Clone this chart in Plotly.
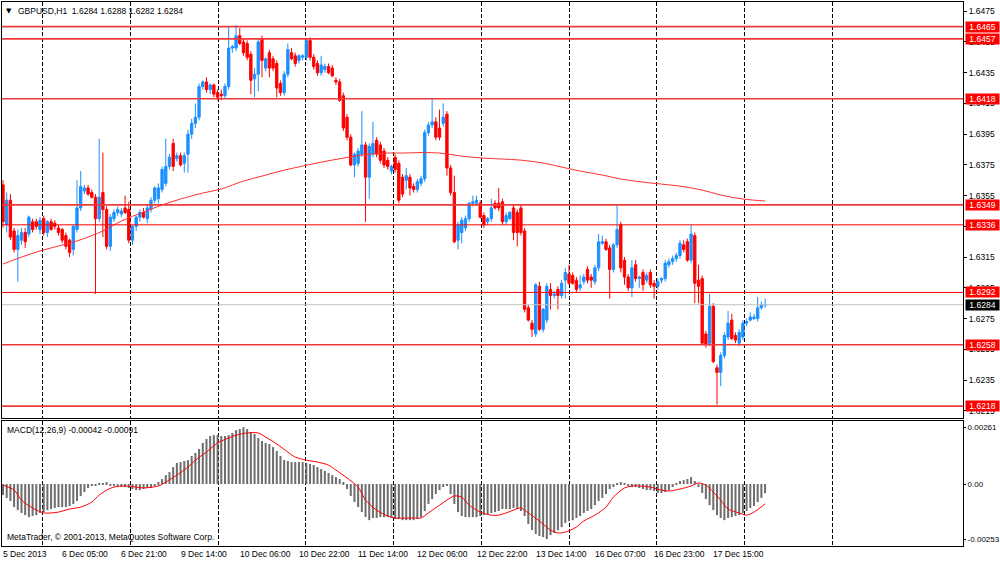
import plotly.graph_objects as go

# GBPUSD H1 candles (bar index = position on the chart)
opens = [1.6362, 1.6336, 1.6352, 1.6332, 1.6320, 1.6326, 1.6331, 1.6330, 1.6338, 1.6338,
         1.6333, 1.6340, 1.6331, 1.6338, 1.6337, 1.6334, 1.6333, 1.6329, 1.6326, 1.6320,
         1.6333, 1.6347, 1.6358, 1.6360, 1.6357, 1.6354, 1.6340, 1.6357, 1.6346, 1.6322,
         1.6340, 1.6344, 1.6343, 1.6347, 1.6346, 1.6326, 1.6335, 1.6341, 1.6344, 1.6340,
         1.6346, 1.6352, 1.6353, 1.6359, 1.6363, 1.6374, 1.6389, 1.6379, 1.6381, 1.6376,
         1.6382, 1.6395, 1.6402, 1.6406, 1.6426, 1.6429, 1.6424, 1.6427, 1.6422, 1.6421,
         1.6420, 1.6426, 1.6451, 1.6451, 1.6459, 1.6455, 1.6454, 1.6447, 1.6431, 1.6434,
         1.6457, 1.6438, 1.6448, 1.6444, 1.6441, 1.6428, 1.6422, 1.6434, 1.6448, 1.6446,
         1.6443, 1.6445, 1.6445, 1.6456, 1.6445, 1.6441, 1.6435, 1.6437, 1.6439, 1.6438,
         1.6430, 1.6429, 1.6420, 1.6406, 1.6393, 1.6375, 1.6376, 1.6382, 1.6388, 1.6367,
         1.6382, 1.6391, 1.6388, 1.6384, 1.6378, 1.6371, 1.6380, 1.6376, 1.6367, 1.6365,
         1.6367, 1.6361, 1.6359, 1.6363, 1.6366, 1.6396, 1.6401, 1.6403, 1.6399, 1.6402,
         1.6408, 1.6373, 1.6357, 1.6326, 1.6331, 1.6334, 1.6340, 1.6350, 1.6350, 1.6350,
         1.6342, 1.6338, 1.6340, 1.6350, 1.6350, 1.6351, 1.6338, 1.6340, 1.6347, 1.6344,
         1.6347, 1.6332, 1.6282, 1.6272, 1.6265, 1.6296, 1.6268, 1.6274, 1.6294, 1.6290,
         1.6294, 1.6290, 1.6300, 1.6304, 1.6303, 1.6300, 1.6295, 1.6299, 1.6307, 1.6302,
         1.6299, 1.6308, 1.6324, 1.6325, 1.6321, 1.6307, 1.6323, 1.6336, 1.6313, 1.6302,
         1.6295, 1.6310, 1.6301, 1.6305, 1.6300, 1.6305, 1.6298, 1.6296, 1.6300, 1.6301,
         1.6310, 1.6312, 1.6314, 1.6316, 1.6323, 1.6325, 1.6313, 1.6329, 1.6300, 1.6301,
         1.6265, 1.6259, 1.6283, 1.6243, 1.6240, 1.6251, 1.6263, 1.6274, 1.6264, 1.6259,
         1.6263, 1.6272, 1.6274, 1.6275, 1.6275, 1.6282, 1.6284]
highs = [1.6365, 1.6357, 1.6356, 1.6334, 1.6333, 1.6334, 1.6334, 1.6342, 1.6340, 1.6340,
         1.6341, 1.6342, 1.6339, 1.6340, 1.6339, 1.6336, 1.6334, 1.6331, 1.6327, 1.6336,
         1.6365, 1.6371, 1.6362, 1.6362, 1.6359, 1.6356, 1.6392, 1.6383, 1.6348, 1.6343,
         1.6346, 1.6348, 1.6347, 1.6355, 1.6351, 1.6336, 1.6342, 1.6346, 1.6347, 1.6349,
         1.6354, 1.6361, 1.6363, 1.6374, 1.6392, 1.6382, 1.6392, 1.6383, 1.6383, 1.6383,
         1.6398, 1.6405, 1.6415, 1.6428, 1.6430, 1.6432, 1.6428, 1.6428, 1.6424, 1.6424,
         1.6428, 1.6465, 1.6453, 1.6466, 1.6464, 1.6457, 1.6456, 1.6449, 1.6438, 1.6457,
         1.6459, 1.6445, 1.6450, 1.6446, 1.6443, 1.6430, 1.6436, 1.6454, 1.6451, 1.6448,
         1.6447, 1.6447, 1.6457, 1.6458, 1.6447, 1.6443, 1.6446, 1.6441, 1.6441, 1.6440,
         1.6432, 1.6431, 1.6422, 1.6408, 1.6395, 1.6383, 1.6386, 1.6410, 1.6390, 1.6389,
         1.6403, 1.6393, 1.6390, 1.6386, 1.6380, 1.6375, 1.6382, 1.6378, 1.6369, 1.6373,
         1.6369, 1.6363, 1.6366, 1.6368, 1.6398, 1.6403, 1.6418, 1.6406, 1.6411, 1.6415,
         1.6410, 1.6375, 1.6368, 1.6338, 1.6341, 1.6342, 1.6351, 1.6355, 1.6355, 1.6352,
         1.6344, 1.6341, 1.6353, 1.6352, 1.6360, 1.6353, 1.6344, 1.6345, 1.6349, 1.6346,
         1.6349, 1.6334, 1.6284, 1.6274, 1.6298, 1.6299, 1.6282, 1.6298, 1.6298, 1.6293,
         1.6296, 1.6300, 1.6308, 1.6310, 1.6305, 1.6302, 1.6303, 1.6304, 1.6309, 1.6304,
         1.6310, 1.6330, 1.6329, 1.6327, 1.6323, 1.6324, 1.6349, 1.6338, 1.6315, 1.6304,
         1.6313, 1.6313, 1.6303, 1.6307, 1.6305, 1.6307, 1.6300, 1.6301, 1.6302, 1.6313,
         1.6314, 1.6316, 1.6318, 1.6326, 1.6326, 1.6327, 1.6336, 1.6331, 1.6310, 1.6303,
         1.6267, 1.6291, 1.6285, 1.6245, 1.6253, 1.6266, 1.6280, 1.6278, 1.6266, 1.6268,
         1.6274, 1.6275, 1.6279, 1.6278, 1.6289, 1.6286, 1.6288]
lows = [1.6334, 1.6331, 1.6326, 1.6318, 1.6299, 1.6323, 1.6321, 1.6328, 1.6331, 1.6333,
        1.6330, 1.6329, 1.6328, 1.6332, 1.6333, 1.6329, 1.6324, 1.6320, 1.6315, 1.6316,
        1.6331, 1.6345, 1.6356, 1.6355, 1.6353, 1.6291, 1.6338, 1.6328, 1.6320, 1.6319,
        1.6338, 1.6342, 1.6341, 1.6343, 1.6324, 1.6323, 1.6332, 1.6338, 1.6340, 1.6337,
        1.6344, 1.6350, 1.6350, 1.6357, 1.6361, 1.6372, 1.6371, 1.6377, 1.6374, 1.6370,
        1.6370, 1.6392, 1.6399, 1.6404, 1.6424, 1.6422, 1.6421, 1.6419, 1.6417, 1.6417,
        1.6418, 1.6424, 1.6448, 1.6449, 1.6453, 1.6446, 1.6443, 1.6421, 1.6419, 1.6423,
        1.6432, 1.6436, 1.6432, 1.6436, 1.6419, 1.6420, 1.6420, 1.6432, 1.6443, 1.6439,
        1.6441, 1.6443, 1.6443, 1.6443, 1.6437, 1.6433, 1.6433, 1.6435, 1.6434, 1.6432,
        1.6427, 1.6416, 1.6397, 1.6391, 1.6374, 1.6367, 1.6374, 1.6380, 1.6338, 1.6353,
        1.6380, 1.6380, 1.6376, 1.6373, 1.6372, 1.6369, 1.6370, 1.6350, 1.6354, 1.6359,
        1.6355, 1.6357, 1.6357, 1.6361, 1.6364, 1.6394, 1.6399, 1.6391, 1.6391, 1.6400,
        1.6368, 1.6355, 1.6324, 1.6320, 1.6324, 1.6332, 1.6338, 1.6348, 1.6349, 1.6340,
        1.6334, 1.6336, 1.6338, 1.6346, 1.6345, 1.6336, 1.6336, 1.6339, 1.6326, 1.6322,
        1.6329, 1.6279, 1.6273, 1.6263, 1.6263, 1.6267, 1.6266, 1.6272, 1.6281, 1.6288,
        1.6281, 1.6288, 1.6288, 1.6297, 1.6297, 1.6292, 1.6293, 1.6297, 1.6298, 1.6295,
        1.6297, 1.6306, 1.6323, 1.6319, 1.6288, 1.6305, 1.6321, 1.6305, 1.6297, 1.6293,
        1.6289, 1.6299, 1.6295, 1.6293, 1.6298, 1.6295, 1.6288, 1.6294, 1.6298, 1.6299,
        1.6308, 1.6310, 1.6312, 1.6314, 1.6318, 1.6312, 1.6311, 1.6285, 1.6285, 1.6258,
        1.6256, 1.6257, 1.6246, 1.6219, 1.6231, 1.6249, 1.6261, 1.6261, 1.6259, 1.6257,
        1.6261, 1.6270, 1.6273, 1.6274, 1.6273, 1.6281, 1.6282]
closes = [1.6338, 1.6352, 1.6328, 1.6320, 1.6329, 1.6331, 1.6325, 1.6341, 1.6333, 1.6335,
          1.6339, 1.6331, 1.6338, 1.6333, 1.6335, 1.6331, 1.6326, 1.6322, 1.6318, 1.6335,
          1.6347, 1.6361, 1.6360, 1.6356, 1.6354, 1.6340, 1.6354, 1.6346, 1.6322, 1.6341,
          1.6344, 1.6346, 1.6345, 1.6344, 1.6326, 1.6335, 1.6341, 1.6344, 1.6341, 1.6347,
          1.6352, 1.6360, 1.6360, 1.6372, 1.6374, 1.6380, 1.6374, 1.6381, 1.6375, 1.6381,
          1.6395, 1.6402, 1.6406, 1.6426, 1.6429, 1.6424, 1.6427, 1.6421, 1.6419, 1.6420,
          1.6426, 1.6451, 1.6452, 1.6459, 1.6454, 1.6448, 1.6445, 1.6430, 1.6434, 1.6455,
          1.6443, 1.6444, 1.6438, 1.6438, 1.6425, 1.6422, 1.6434, 1.6450, 1.6444, 1.6441,
          1.6446, 1.6446, 1.6456, 1.6445, 1.6439, 1.6435, 1.6440, 1.6439, 1.6435, 1.6433,
          1.6429, 1.6417, 1.6399, 1.6393, 1.6375, 1.6382, 1.6384, 1.6388, 1.6367, 1.6387,
          1.6389, 1.6382, 1.6378, 1.6375, 1.6374, 1.6374, 1.6372, 1.6352, 1.6356, 1.6368,
          1.6360, 1.6359, 1.6364, 1.6366, 1.6396, 1.6401, 1.6403, 1.6393, 1.6393, 1.6406,
          1.6373, 1.6357, 1.6325, 1.6336, 1.6339, 1.6340, 1.6350, 1.6351, 1.6352, 1.6341,
          1.6336, 1.6340, 1.6347, 1.6347, 1.6347, 1.6338, 1.6342, 1.6344, 1.6331, 1.6331,
          1.6331, 1.6281, 1.6274, 1.6268, 1.6297, 1.6268, 1.6281, 1.6296, 1.6290, 1.6291,
          1.6290, 1.6298, 1.6305, 1.6298, 1.6298, 1.6294, 1.6297, 1.6302, 1.6300, 1.6300,
          1.6308, 1.6325, 1.6325, 1.6320, 1.6307, 1.6323, 1.6333, 1.6308, 1.6302, 1.6295,
          1.6308, 1.6301, 1.6302, 1.6297, 1.6303, 1.6297, 1.6296, 1.6299, 1.6301, 1.6311,
          1.6312, 1.6314, 1.6316, 1.6324, 1.6320, 1.6313, 1.6330, 1.6298, 1.6296, 1.6259,
          1.6258, 1.6283, 1.6247, 1.6240, 1.6251, 1.6264, 1.6272, 1.6262, 1.6261, 1.6266,
          1.6272, 1.6273, 1.6276, 1.6276, 1.6282, 1.6284, 1.6284]
bars = list(range(len(closes)))

# red moving average, sampled along the curve
ma_bars = [0, 5, 10, 15, 20, 27, 32, 38, 43, 48, 54, 59, 65, 70, 76, 81, 86, 92, 97, 103,
           108, 113, 118, 124, 130, 135, 140, 146, 151, 156, 162, 167, 173, 178, 183, 189,
           194, 200, 206]
ma_vals = [1.63105, 1.63150, 1.63190, 1.63222, 1.63255, 1.63320, 1.63385, 1.63443, 1.63489,
           1.63528, 1.63567, 1.63593, 1.63645, 1.63677, 1.63716, 1.63742, 1.63768, 1.63794,
           1.63814, 1.63827, 1.63827, 1.63830, 1.63827, 1.63807, 1.63794, 1.63788, 1.63781,
           1.63762, 1.63736, 1.63710, 1.63684, 1.63658, 1.63638, 1.63625, 1.63612, 1.63586,
           1.63554, 1.63528, 1.63515]

# horizontal levels drawn on the chart
levels = [1.6465, 1.6457, 1.6418, 1.6349, 1.6336, 1.6292, 1.6258, 1.6218]
soft_levels = [1.6465, 1.6457, 1.6418, 1.6349, 1.6258, 1.6218]
bid = 1.6284

# MACD(12,26,9)
macd_main = [-0.00051, -0.00064, -0.00078, -0.00106, -0.00120, -0.00133, -0.00143, -0.00152, -0.00147, -0.00143,
             -0.00133, -0.00129, -0.00120, -0.00115, -0.00110, -0.00106, -0.00106, -0.00106, -0.00101, -0.00092,
             -0.00078, -0.00055, -0.00037, -0.00018, -0.00009, -0.00005, 0.00005, 0.00005, 0.00009, -0.00005,
             -0.00009, -0.00014, -0.00014, -0.00014, -0.00018, -0.00023, -0.00028, -0.00028, -0.00023, -0.00018,
             -0.00018, -0.00009, 0.00009, 0.00023, 0.00041, 0.00055, 0.00078, 0.00097, 0.00101, 0.00106,
             0.00110, 0.00129, 0.00143, 0.00161, 0.00189, 0.00207, 0.00221, 0.00225, 0.00225, 0.00221,
             0.00221, 0.00225, 0.00235, 0.00248, 0.00253, 0.00261, 0.00253, 0.00239, 0.00230, 0.00212,
             0.00198, 0.00189, 0.00184, 0.00170, 0.00152, 0.00129, 0.00110, 0.00106, 0.00101, 0.00101,
             0.00101, 0.00101, 0.00097, 0.00092, 0.00087, 0.00078, 0.00069, 0.00060, 0.00051, 0.00041,
             0.00032, 0.00023, 0.00009, -0.00023, -0.00055, -0.00083, -0.00106, -0.00129, -0.00152, -0.00166,
             -0.00156, -0.00156, -0.00152, -0.00152, -0.00152, -0.00156, -0.00161, -0.00161, -0.00166, -0.00166,
             -0.00166, -0.00166, -0.00161, -0.00152, -0.00124, -0.00092, -0.00069, -0.00046, -0.00028, -0.00014,
             -0.00009, -0.00046, -0.00092, -0.00129, -0.00147, -0.00152, -0.00152, -0.00152, -0.00152, -0.00147,
             -0.00143, -0.00138, -0.00133, -0.00129, -0.00124, -0.00115, -0.00115, -0.00115, -0.00110, -0.00115,
             -0.00124, -0.00147, -0.00184, -0.00212, -0.00230, -0.00239, -0.00244, -0.00253, -0.00235, -0.00225,
             -0.00212, -0.00198, -0.00179, -0.00170, -0.00166, -0.00156, -0.00147, -0.00133, -0.00124, -0.00115,
             -0.00097, -0.00078, -0.00064, -0.00046, -0.00023, -0.00014, 0.00005, 0.00009, 0.00005, -0.00009,
             -0.00014, -0.00014, -0.00018, -0.00023, -0.00028, -0.00028, -0.00032, -0.00041, -0.00041, -0.00037,
             -0.00028, -0.00014, 0.00005, 0.00014, 0.00018, 0.00023, 0.00032, 0.00014, -0.00014, -0.00041,
             -0.00069, -0.00097, -0.00120, -0.00143, -0.00156, -0.00166, -0.00156, -0.00152, -0.00147, -0.00143,
             -0.00133, -0.00124, -0.00110, -0.00101, -0.00083, -0.00064, -0.00042]
sig_bars = [0, 3, 5, 8, 11, 13, 15, 18, 21, 24, 26, 28, 30, 33, 36, 38, 42, 44, 47, 50,
            52, 55, 58, 61, 63, 66, 69, 71, 74, 77, 79, 82, 85, 88, 90, 93, 96, 98, 101, 104,
            106, 111, 113, 115, 118, 120, 122, 124, 126, 129, 132, 134, 136, 138, 140, 142, 145, 148, 150, 152,
            155, 157, 160, 163, 165, 168, 170, 172, 175, 178, 180, 183, 186, 188, 190, 192, 194, 196, 199, 201,
            203, 206]
sig_vals = [-0.00005, -0.00028, -0.00074, -0.00110, -0.00133, -0.00133, -0.00129, -0.00115, -0.00106, -0.00083,
            -0.00051, -0.00028, -0.00014, -0.00009, -0.00014, -0.00018, -0.00009, 0.00009, 0.00041, 0.00078,
            0.00110, 0.00147, 0.00189, 0.00212, 0.00225, 0.00235, 0.00235, 0.00216, 0.00184, 0.00147,
            0.00124, 0.00110, 0.00101, 0.00087, 0.00064, 0.00028, -0.00014, -0.00074, -0.00120, -0.00147,
            -0.00156, -0.00156, -0.00156, -0.00133, -0.00097, -0.00074, -0.00055, -0.00060, -0.00097, -0.00129,
            -0.00143, -0.00143, -0.00133, -0.00120, -0.00110, -0.00133, -0.00170, -0.00212, -0.00225, -0.00221,
            -0.00198, -0.00170, -0.00143, -0.00106, -0.00060, -0.00018, -0.00009, -0.00009, -0.00014, -0.00028,
            -0.00032, -0.00023, -0.00009, 0.00005, -0.00005, -0.00037, -0.00074, -0.00115, -0.00133, -0.00143,
            -0.00129, -0.00091]

time_bars = [0, 16, 32, 48, 64, 80, 96, 112, 128, 144, 160, 176, 192]
time_labels = ["5 Dec 2013", "6 Dec 05:00", "6 Dec 21:00", "9 Dec 14:00", "10 Dec 06:00",
               "10 Dec 22:00", "11 Dec 14:00", "12 Dec 06:00", "12 Dec 22:00", "13 Dec 14:00",
               "16 Dec 07:00", "16 Dec 23:00", "17 Dec 15:00"]

BLUE = '#1E90FF'
RED = '#FF0000'
FONT = 'Liberation Sans, Arial, sans-serif'

fig = go.Figure()
fig.add_trace(go.Candlestick(x=bars, open=opens, high=highs, low=lows, close=closes,
                             increasing=dict(line=dict(color=BLUE, width=1), fillcolor=BLUE),
                             decreasing=dict(line=dict(color=RED, width=1), fillcolor=RED),
                             whiskerwidth=0, showlegend=False, xaxis='x', yaxis='y'))
fig.add_trace(go.Scatter(x=ma_bars, y=ma_vals, mode='lines', showlegend=False,
                         line=dict(color='#ff3030', width=1, shape='spline'), xaxis='x', yaxis='y'))
fig.add_trace(go.Bar(x=bars, y=macd_main, width=0.55, marker=dict(color='#6e6e6e', line=dict(width=0)),
                     showlegend=False, xaxis='x2', yaxis='y2'))
fig.add_trace(go.Scatter(x=sig_bars, y=sig_vals, mode='lines', showlegend=False,
                         line=dict(color=RED, width=1, shape='spline', smoothing=0.8), xaxis='x2', yaxis='y2'))

shapes = []
for lv in levels:
    soft = lv in soft_levels
    shapes.append(dict(type='line', xref='paper', yref='y', x0=0, x1=1, y0=lv, y1=lv,
                       line=dict(color='#f03a3a' if soft else RED, width=1.6 if soft else 1)))
shapes.append(dict(type='line', xref='paper', yref='y', x0=0, x1=1, y0=bid, y1=bid,
                   line=dict(color='#c0c0c0', width=1)))

annotations = []
for lv in levels:
    annotations.append(dict(xref='paper', yref='y', x=1, y=lv, xanchor='left', xshift=2,
                            text=f'{lv:.4f}', showarrow=False, bgcolor=RED, borderpad=0,
                            width=33, height=10, font=dict(color='white', size=8.5, family=FONT)))
annotations.append(dict(xref='paper', yref='y', x=1, y=bid, xanchor='left', xshift=2,
                        text=f'{bid:.4f}', showarrow=False, bgcolor='black', borderpad=0,
                        width=33, height=10, font=dict(color='white', size=8.5, family=FONT)))
for b, lab in zip(time_bars, time_labels):
    annotations.append(dict(xref='x2', yref='paper', x=b, y=0, xanchor='left', yanchor='top',
                            xshift=-2, yshift=-1, text=lab, showarrow=False,
                            font=dict(size=8.5, family=FONT, color='black')))
annotations += [
    dict(xref='paper', yref='paper', x=0, y=1, xanchor='left', yanchor='top', xshift=2, yshift=-3,
         text='▼', showarrow=False, font=dict(size=7, family='DejaVu Sans', color='black')),
    dict(xref='paper', yref='paper', x=0, y=1, xanchor='left', yanchor='top', xshift=14, yshift=-2,
         text='GBPUSD,H1  1.6284 1.6288 1.6282 1.6284', showarrow=False,
         font=dict(size=8.5, family=FONT, color='black')),
    dict(xref='paper', yref='y2 domain', x=0, y=1, xanchor='left', yanchor='top', xshift=3, yshift=-2,
         text='MACD(12,26,9) -0.00042 -0.00091', showarrow=False,
         font=dict(size=8.5, family=FONT, color='black')),
    dict(xref='paper', yref='y2 domain', x=0, y=0, xanchor='left', yanchor='bottom', xshift=3, yshift=2,
         text='MetaTrader, © 2001-2013, MetaQuotes Software Corp.', showarrow=False,
         font=dict(size=8.5, family=FONT, color='black')),
]

# dashed vertical grid: ten lines, one every ~23.7 bars
grid_at = [10.8 + 23.7 * k for k in range(10)]
xcommon = dict(range=[-0.27, 259.5], showticklabels=False, tickmode='array', tickvals=grid_at,
               showgrid=True, griddash='4px,2px', gridcolor='black', gridwidth=1, ticks='',
               showline=True, mirror=True, linecolor='black', linewidth=1, zeroline=False)

fig.update_layout(
    width=1000, height=562,
    margin=dict(l=2, r=37, t=2, b=16),
    paper_bgcolor='white', plot_bgcolor='white',
    font=dict(family=FONT, size=8.5, color='black'),
    xaxis=dict(**xcommon, anchor='y', rangeslider=dict(visible=False)),
    xaxis2=dict(**xcommon, anchor='y2', matches='x'),
    yaxis=dict(domain=[0.2353, 1], range=[1.62103, 1.6481], side='right', tick0=1.6215, dtick=0.002,
               tickformat='.4f', ticks='outside', ticklen=3, tickcolor='black', showgrid=False,
               showline=True, mirror=True, linecolor='black', zeroline=False, automargin=False,
               tickfont=dict(size=8.5, family=FONT)),
    yaxis2=dict(domain=[0, 0.2298], range=[-0.00285, 0.0029], side='right',
                tickvals=[0.00261, 0, -0.00253], ticktext=['0.00261', '0.00', '-0.00253'],
                ticks='outside', ticklen=2, tickcolor='black', showgrid=False,
                showline=True, mirror=True, linecolor='black', zeroline=False, automargin=False,
                tickfont=dict(size=8, family=FONT)),
    bargap=0.4,
    boxgap=0.1,
    shapes=shapes,
    annotations=annotations,
)

# the page body has an 8px margin by default; drop it so the chart fills the window
fig.write_html("out.html", config={'displayModeBar': False},
               post_script="document.body.style.margin='0';")
